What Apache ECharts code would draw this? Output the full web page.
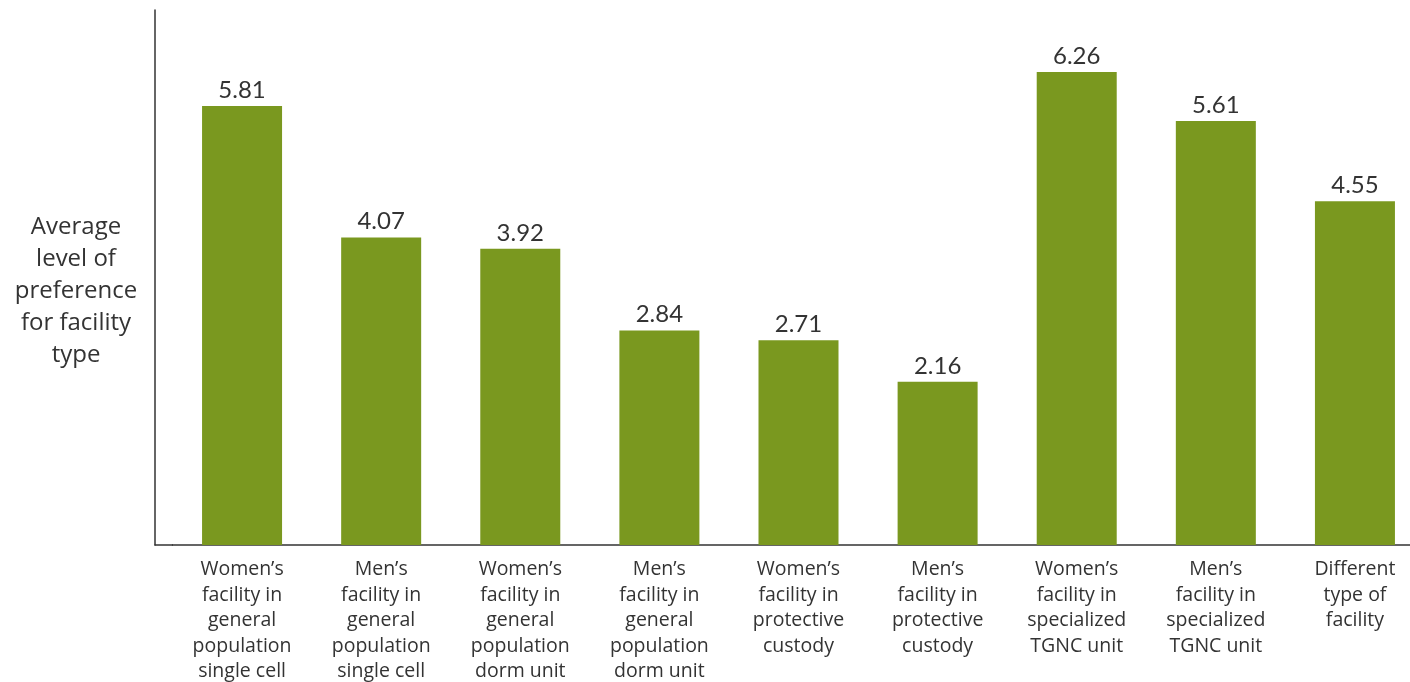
<!DOCTYPE html>
<html><head><meta charset="utf-8">
<script src="https://cdn.jsdelivr.net/npm/echarts@6/dist/echarts.min.js"></script>
<style>html,body{margin:0;padding:0;background:#fff}#c{width:1410px;height:682px}</style>
</head><body><div id="c"></div>
<script>
const categories = [
  "Women\u2019s\nfacility in\ngeneral\npopulation\nsingle cell",
  "Men\u2019s\nfacility in\ngeneral\npopulation\nsingle cell",
  "Women\u2019s\nfacility in\ngeneral\npopulation\ndorm unit",
  "Men\u2019s\nfacility in\ngeneral\npopulation\ndorm unit",
  "Women\u2019s\nfacility in\nprotective\ncustody",
  "Men\u2019s\nfacility in\nprotective\ncustody",
  "Women\u2019s\nfacility in\nspecialized\nTGNC unit",
  "Men\u2019s\nfacility in\nspecialized\nTGNC unit",
  "Different\ntype of\nfacility"
];
const values = [5.81, 4.07, 3.92, 2.84, 2.71, 2.16, 6.26, 5.61, 4.55];
const yTitle = "Average\nlevel of\npreference\nfor facility\ntype";

const chart = echarts.init(document.getElementById('c'), null, {renderer: 'canvas'});
const font = '"Open Sans", Lato, sans-serif';
chart.setOption({
  animation: false,
  grid: {left: 172.5, right: -14.5, top: 10, bottom: 137, containLabel: false, outerBoundsMode: 'none'},
  xAxis: {
    type: 'category', data: categories,
    axisLine: {show: true, lineStyle: {color: '#333', width: 1.5}},
    axisTick: {show: false},
    axisLabel: {color: '#333', fontSize: 19.5, lineHeight: 25.5, fontFamily: font, margin: 12, interval: 0}
  },
  yAxis: {
    type: 'value', min: 0, max: 7.08, offset: 17.5,
    axisLine: {show: true, lineStyle: {color: '#333', width: 1.5}},
    axisTick: {show: false}, axisLabel: {show: false}, splitLine: {show: false}
  },
  graphic: [
    {type: 'line', shape: {x1: 154.5, y1: 545, x2: 173, y2: 545}, style: {stroke: '#333', lineWidth: 1.5}},
    {type: 'text',
     style: {text: yTitle, fill: '#333', font: '24px ' + font, lineHeight: 32, textAlign: 'center', textVerticalAlign: 'middle', x: 76, y: 291}}
  ],
  series: [{
    type: 'bar', data: values, barWidth: 80,
    itemStyle: {color: '#7a981f'},
    label: {show: true, position: 'top', distance: 4, color: '#333', fontSize: 24, fontFamily: 'Lato, sans-serif', formatter: p => p.value.toFixed(2)}
  }]
});
</script></body></html>
